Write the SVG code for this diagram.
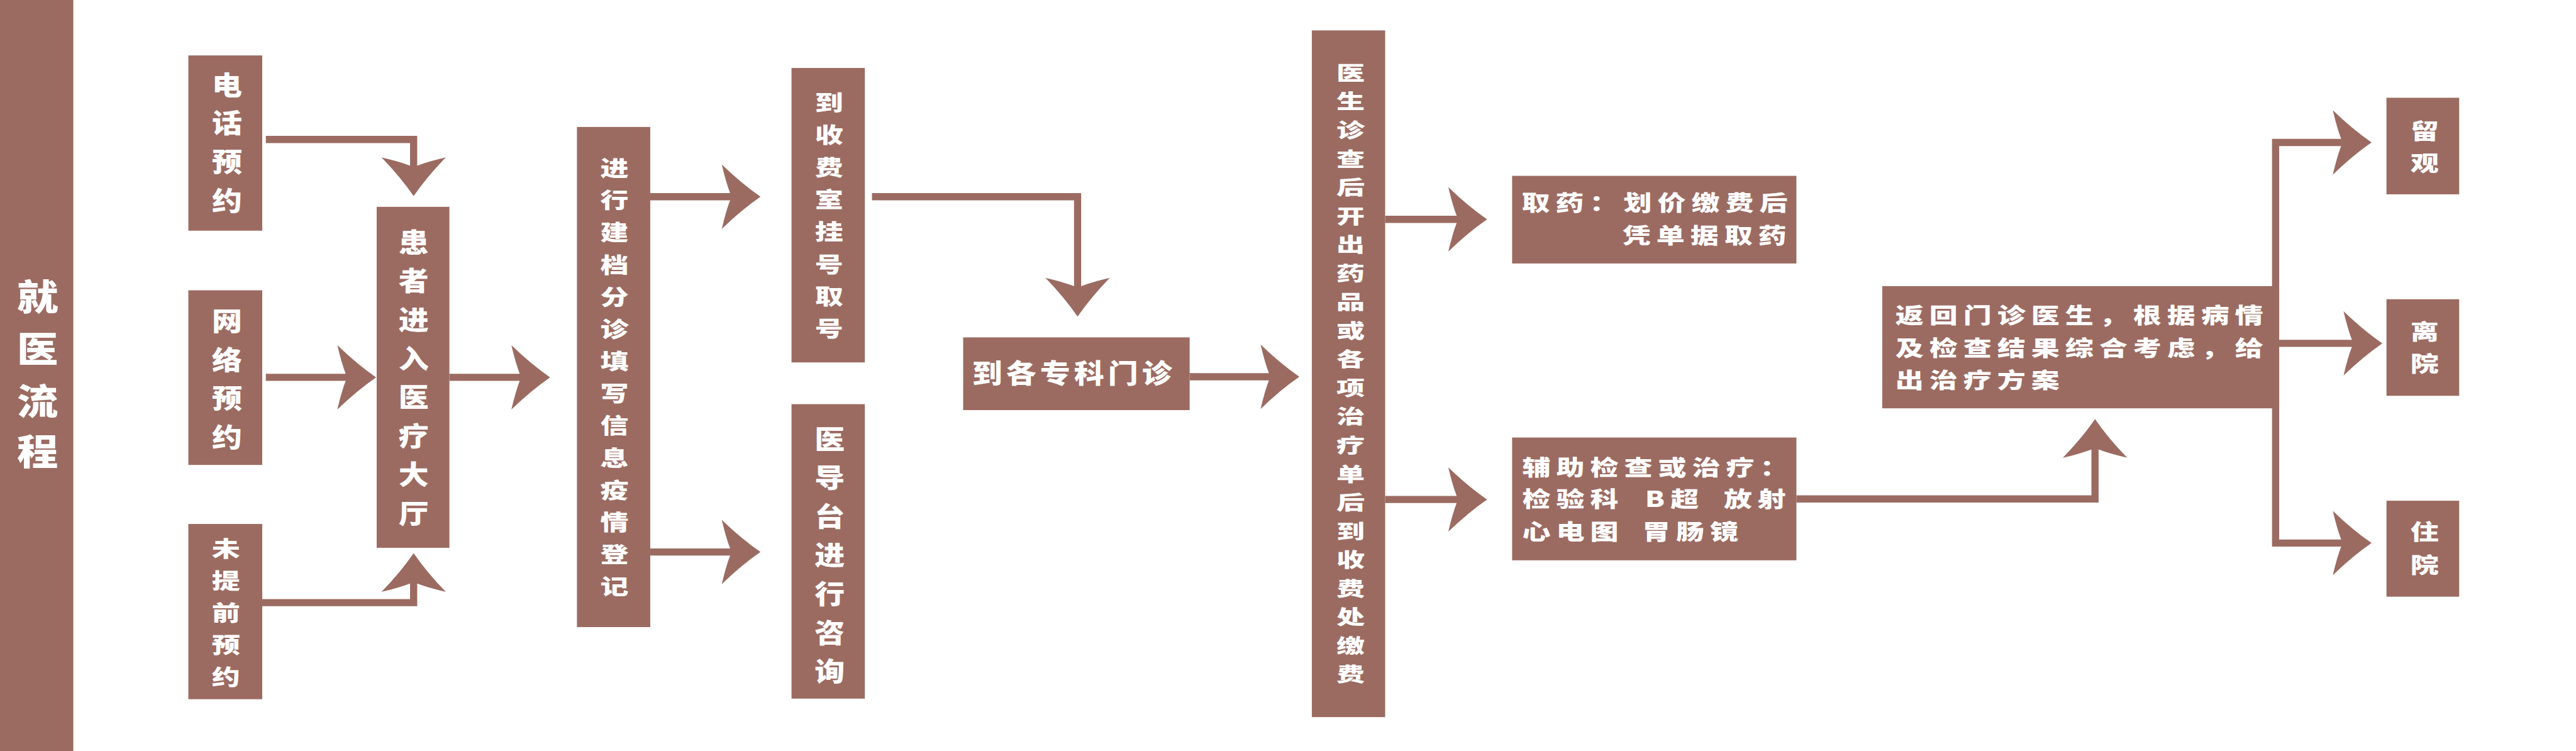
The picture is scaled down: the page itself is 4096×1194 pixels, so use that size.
<svg xmlns="http://www.w3.org/2000/svg" xmlns:xlink="http://www.w3.org/1999/xlink" width="4096" height="1194" viewBox="0 0 4096 1194">
<defs>
<style>
.box{fill:#9B6B61;}
.t{fill:#FFFFFF;font-family:"Noto Sans CJK SC","Noto Sans CJK TC",sans-serif;font-weight:900;font-size:44px;}
.v{text-anchor:middle;}
.m{font-size:36.5px;}
.h{font-size:36.5px;letter-spacing:7.35px;}
.h1{letter-spacing:5.56px;}
.ttl{font-size:60px;}
.sm{font-size:32.8px;}
.ln{fill:none;stroke:#9B6B61;stroke-width:12;stroke-linejoin:miter;}
.ah{fill:#9B6B61;}
</style>
<path id="ah" d="M0,0 Q-32,-22 -65,-54 Q-58,-24 -51,-6 L-51,6 Q-58,24 -65,54 Q-32,22 0,0 Z"/>
</defs>
<rect width="4096" height="1194" fill="#FFFFFF"/>
<g transform="scale(0.94771)">
<g id="title">
<rect class="box" x="0" y="0" width="123" height="1260"/>
<text class="t v ttl" transform="translate(63,0) scale(1.15,1)"><tspan x="0" y="520">就</tspan><tspan x="0" y="608">医</tspan><tspan x="0" y="695">流</tspan><tspan x="0" y="780">程</tspan></text>
</g>
<g id="connectors">
<path class="ln" d="M446,234 H694 V285"/>
<use href="#ah" class="ah" transform="translate(694,329) rotate(90)"/>
<path class="ln" d="M446,633 H585"/>
<use href="#ah" class="ah" transform="translate(631,633)"/>
<path class="ln" d="M440,1011 H694 V972"/>
<use href="#ah" class="ah" transform="translate(694,928) rotate(-90)"/>
<path class="ln" d="M754,633 H877"/>
<use href="#ah" class="ah" transform="translate(923,633)"/>
<path class="ln" d="M1091,330 H1230"/>
<use href="#ah" class="ah" transform="translate(1276,330)"/>
<path class="ln" d="M1091,926 H1230"/>
<use href="#ah" class="ah" transform="translate(1276,926)"/>
<path class="ln" d="M1463,330 H1808 V485"/>
<use href="#ah" class="ah" transform="translate(1808,531) rotate(90)"/>
<path class="ln" d="M1996,632 H2135"/>
<use href="#ah" class="ah" transform="translate(2180,632)"/>
<path class="ln" d="M2324,368 H2450"/>
<use href="#ah" class="ah" transform="translate(2495,368)"/>
<path class="ln" d="M2324,838 H2450"/>
<use href="#ah" class="ah" transform="translate(2495,838)"/>
<path class="ln" d="M3014,837 H3515 V748"/>
<use href="#ah" class="ah" transform="translate(3515,703) rotate(-90)"/>
<path class="ln" d="M3933,239 H3818 V911 H3933"/>
<path class="ln" d="M3813,576 H3951"/>
<use href="#ah" class="ah" transform="translate(3979,239)"/>
<use href="#ah" class="ah" transform="translate(3997,576)"/>
<use href="#ah" class="ah" transform="translate(3979,911)"/>
</g>
<g id="n-phone">
<rect class="box" x="316" y="93" width="124" height="294"/>
<text class="t v" transform="translate(381,0) scale(1.15,1)"><tspan x="0" y="159">电</tspan><tspan x="0" y="223">话</tspan><tspan x="0" y="288">预</tspan><tspan x="0" y="354">约</tspan></text>
</g>
<g id="n-online">
<rect class="box" x="316" y="487" width="124" height="293"/>
<text class="t v" transform="translate(381,0) scale(1.15,1)"><tspan x="0" y="555">网</tspan><tspan x="0" y="620">络</tspan><tspan x="0" y="685">预</tspan><tspan x="0" y="750">约</tspan></text>
</g>
<g id="n-walkin">
<rect class="box" x="316" y="879" width="124" height="294"/>
<text class="t v m" transform="translate(379,0) scale(1.3,1)"><tspan x="0" y="934">未</tspan><tspan x="0" y="987.75">提</tspan><tspan x="0" y="1041.5">前</tspan><tspan x="0" y="1095.25">预</tspan><tspan x="0" y="1149">约</tspan></text>
</g>
<g id="n-hall">
<rect class="box" x="632" y="347" width="122" height="572"/>
<text class="t v" transform="translate(694,0) scale(1.15,1)"><tspan x="0" y="423">患</tspan><tspan x="0" y="488">者</tspan><tspan x="0" y="553">进</tspan><tspan x="0" y="618">入</tspan><tspan x="0" y="683">医</tspan><tspan x="0" y="748">疗</tspan><tspan x="0" y="813">大</tspan><tspan x="0" y="878">厅</tspan></text>
</g>
<g id="n-register">
<rect class="box" x="968" y="213" width="123" height="839"/>
<text class="t v m" transform="translate(1031,0) scale(1.3,1)"><tspan x="0" y="295.5">进</tspan><tspan x="0" y="349.5">行</tspan><tspan x="0" y="403.5">建</tspan><tspan x="0" y="457.5">档</tspan><tspan x="0" y="511.5">分</tspan><tspan x="0" y="565.5">诊</tspan><tspan x="0" y="619.5">填</tspan><tspan x="0" y="673.5">写</tspan><tspan x="0" y="727.5">信</tspan><tspan x="0" y="781.5">息</tspan><tspan x="0" y="835.5">疫</tspan><tspan x="0" y="889.5">情</tspan><tspan x="0" y="943.5">登</tspan><tspan x="0" y="997.5">记</tspan></text>
</g>
<g id="n-cashier">
<rect class="box" x="1328" y="114" width="123" height="494"/>
<text class="t v m" transform="translate(1391,0) scale(1.3,1)"><tspan x="0" y="185.5">到</tspan><tspan x="0" y="239.7">收</tspan><tspan x="0" y="293.9">费</tspan><tspan x="0" y="348.1">室</tspan><tspan x="0" y="402.3">挂</tspan><tspan x="0" y="456.5">号</tspan><tspan x="0" y="510.7">取</tspan><tspan x="0" y="564.9">号</tspan></text>
</g>
<g id="n-guide">
<rect class="box" x="1328" y="678" width="123" height="494"/>
<text class="t v" transform="translate(1392,0) scale(1.15,1)"><tspan x="0" y="753">医</tspan><tspan x="0" y="818">导</tspan><tspan x="0" y="883">台</tspan><tspan x="0" y="948">进</tspan><tspan x="0" y="1013">行</tspan><tspan x="0" y="1078">咨</tspan><tspan x="0" y="1143">询</tspan></text>
</g>
<g id="n-clinic">
<rect class="box" x="1616" y="566" width="380" height="122"/>
<text class="t h1" transform="translate(1631,643) scale(1.15,1)">到各专科门诊</text>
</g>
<g id="n-doctor">
<rect class="box" x="2201" y="51" width="123" height="1152"/>
<text class="t v sm" transform="translate(2266,0) scale(1.45,1)"><tspan x="0" y="134">医</tspan><tspan x="0" y="182">生</tspan><tspan x="0" y="230.1">诊</tspan><tspan x="0" y="278.1">查</tspan><tspan x="0" y="326.2">后</tspan><tspan x="0" y="374.2">开</tspan><tspan x="0" y="422.3">出</tspan><tspan x="0" y="470.3">药</tspan><tspan x="0" y="518.4">品</tspan><tspan x="0" y="566.4">或</tspan><tspan x="0" y="614.5">各</tspan><tspan x="0" y="662.5">项</tspan><tspan x="0" y="710.6">治</tspan><tspan x="0" y="758.6">疗</tspan><tspan x="0" y="806.7">单</tspan><tspan x="0" y="854.7">后</tspan><tspan x="0" y="902.8">到</tspan><tspan x="0" y="950.8">收</tspan><tspan x="0" y="998.9">费</tspan><tspan x="0" y="1046.9">处</tspan><tspan x="0" y="1095">缴</tspan><tspan x="0" y="1143">费</tspan></text>
</g>
<g id="n-medicine">
<rect class="box" x="2537" y="295" width="477" height="147"/>
<text class="t h" transform="translate(2553,0) scale(1.3,1)"><tspan x="0" y="353.5">取药：划价缴费后</tspan><tspan x="130" y="408">凭单据取药</tspan></text>
</g>
<g id="n-exam">
<rect class="box" x="2537" y="734" width="477" height="206"/>
<text class="t h" transform="translate(2554,0) scale(1.3,1)"><tspan x="0" y="797.5">辅助检查或治疗：</tspan><tspan x="0" y="851">检验科</tspan><tspan x="158.5" y="851">B</tspan><tspan x="191.5" y="851">超</tspan><tspan x="260" y="851">放射</tspan><tspan x="0" y="905">心电图</tspan><tspan x="154.6" y="905">胃肠镜</tspan></text>
</g>
<g id="n-return">
<rect class="box" x="3158" y="480" width="655" height="205"/>
<text class="t h" transform="translate(3180,0) scale(1.3,1)"><tspan x="0" y="542.5">返回门诊医生，根据病情</tspan><tspan x="0" y="597.5">及检查结果综合考虑，给</tspan><tspan x="0" y="651.5">出治疗方案</tspan></text>
</g>
<g id="n-observe">
<rect class="box" x="4004" y="164" width="122" height="162"/>
<text class="t v m" transform="translate(4068,0) scale(1.3,1)"><tspan x="0" y="233.5">留</tspan><tspan x="0" y="287.5">观</tspan></text>
</g>
<g id="n-leave">
<rect class="box" x="4004" y="502" width="122" height="162"/>
<text class="t v m" transform="translate(4068,0) scale(1.3,1)"><tspan x="0" y="569.5">离</tspan><tspan x="0" y="623.5">院</tspan></text>
</g>
<g id="n-admit">
<rect class="box" x="4004" y="840" width="122" height="161"/>
<text class="t v m" transform="translate(4068,0) scale(1.3,1)"><tspan x="0" y="905">住</tspan><tspan x="0" y="961.5">院</tspan></text>
</g>
</g>
</svg>
